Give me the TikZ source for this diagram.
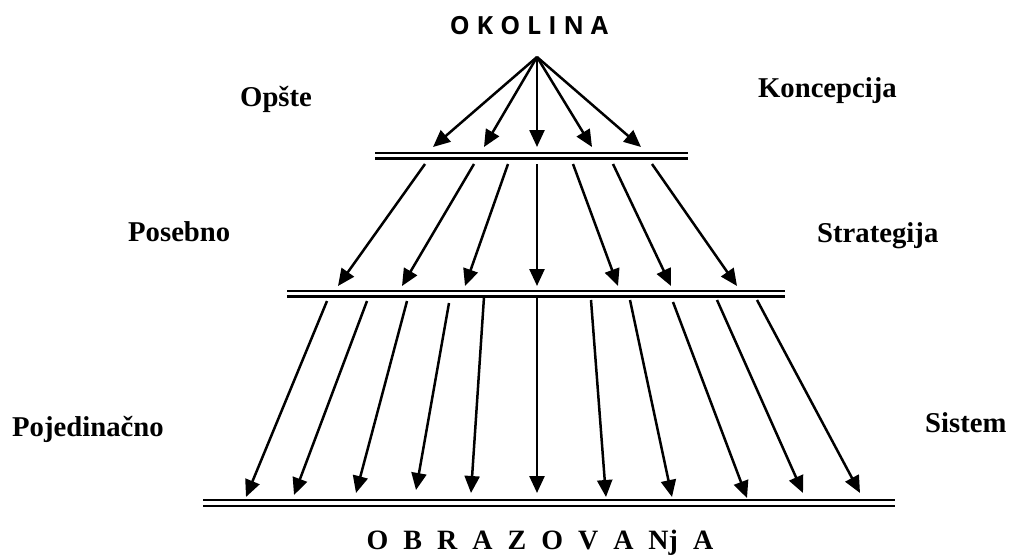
\documentclass[tikz,border=0pt]{standalone}
\usepackage{fontspec}
\setmainfont{Liberation Serif}
\newfontfamily\oksans{Open Sans}
\usetikzlibrary{arrows.meta}
\begin{document}
\begin{tikzpicture}[x=1pt,y=-1pt,
  arr/.style={line width=2.5pt,-{Triangle[length=17pt,width=15pt]}},
  bar/.style={line width=2.1pt},
  lbl/.style={inner sep=0pt,font=\bfseries\fontsize{28.7}{30}\selectfont},
  title/.style={inner sep=0pt,font=\oksans\bfseries\fontsize{25}{27}\selectfont},
  foot/.style={inner sep=0pt,font=\bfseries\fontsize{28}{30}\selectfont},
]
\useasboundingbox (0,0) rectangle (1009,557);
% titles
\node[title,anchor=base] (okolina) at (529,34) {O\kern7pt K\kern7pt O\kern7pt L\kern7pt I\kern7pt N\kern7pt A};
\node[foot,anchor=base] (obraz) at (540,549) {O\kern15pt B\kern15pt R\kern15pt A\kern15pt Z\kern15pt O\kern15pt V\kern15pt A\kern15pt Nj\kern15pt A};
% side labels
\node[lbl,anchor=base west] (opste) at (240,106) {Opšte};
\node[lbl,anchor=base east] (konc) at (897,97) {Koncepcija};
\node[lbl,anchor=base west] (poseb) at (128,241) {Posebno};
\node[lbl,anchor=base west] (strat) at (817,242) {Strategija};
\node[lbl,anchor=base west] (pojed) at (12,436) {Pojedinačno};
\node[lbl,anchor=base west] (sist) at (925,432) {Sistem};
% level bars
\coordinate (a1) at (375,153); \coordinate (b1) at (688,153);
\coordinate (c1) at (375,158.5); \coordinate (d1) at (688,158.5);
\coordinate (a2) at (287,291); \coordinate (b2) at (785,291);
\coordinate (c2) at (287,296.5); \coordinate (d2) at (785,296.5);
\coordinate (a3) at (203,500); \coordinate (b3) at (895,500);
\coordinate (c3) at (203,506); \coordinate (d3) at (895,506);
\foreach \k in {1,2,3} {
  \draw[bar] (a\k) -- (b\k);
  \draw[bar] (c\k) -- (d\k);
}
% apex arrows
\coordinate (apex) at (537,57);
\foreach \tx [count=\i] in {433,484,537,592,641} {
  \coordinate (t1\i) at (\tx,147);
  \draw[arr] (apex) -- (t1\i);
}
% level 1 -> level 2
\foreach \sx/\tx [count=\i] in {425/338,474/402,508/465,537/537,573/618,613/671,652/737} {
  \coordinate (s2\i) at (\sx,164);
  \coordinate (t2\i) at (\tx,286);
  \draw[arr] (s2\i) -- (t2\i);
}
% level 2 -> level 3
\foreach \sx/\sy/\tx/\ty [count=\i] in {327/301/246/497,367/301/294/495,407/301/356/493,449/303/416/490,484/297/471/493,537/297/537/493,591/300/606/497,630/300/672/497,673/302/747/498,717/300/803/493,757/300/860/493} {
  \coordinate (s3\i) at (\sx,\sy);
  \coordinate (t3\i) at (\tx,\ty);
  \draw[arr] (s3\i) -- (t3\i);
}
\end{tikzpicture}
\end{document}
